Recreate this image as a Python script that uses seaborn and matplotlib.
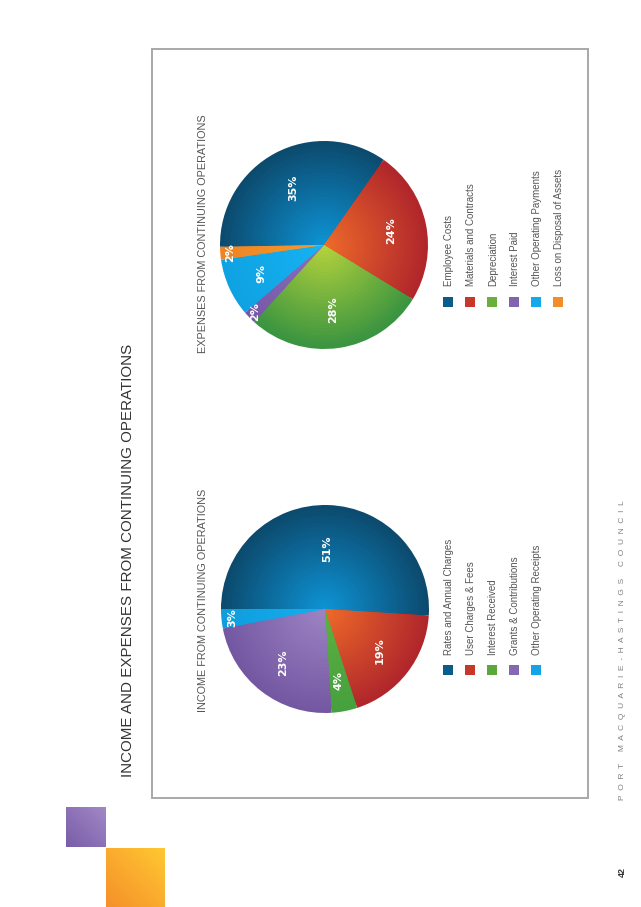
"""Income and expenses from continuing operations: two pies on a page rotated 90 degrees."""

import matplotlib

matplotlib.use("Agg")
import matplotlib.pyplot as plt
import numpy as np
import seaborn as sns
from matplotlib.colors import to_rgb
from matplotlib.patches import Rectangle

W, H = 641, 907

TITLE = "INCOME AND EXPENSES FROM CONTINUING OPERATIONS"
FOOTER = "P  O  R  T     M  A  C  Q  U  A  R  I  E  -  H  A  S  T  I  N  G  S     C  O  U  N  C  I  L"
PAGE_NO = "42"

INCOME_TITLE = "INCOME FROM CONTINUING OPERATIONS"
INCOME_LABELS = [
    "Rates and Annual Charges",
    "User Charges & Fees",
    "Interest Received",
    "Grants & Contributions",
    "Other Operating Receipts",
]
INCOME_PCT = [51, 19, 4, 23, 3]

EXPENSE_TITLE = "EXPENSES FROM CONTINUING OPERATIONS"
EXPENSE_LABELS = [
    "Employee Costs",
    "Materials and Contracts",
    "Depreciation",
    "Interest Paid",
    "Other Operating Payments",
    "Loss on Disposal of Assets",
]
EXPENSE_PCT = [35, 24, 28, 2, 9, 2]

# (edge colour, centre colour) for the radial shading of each slice
INCOME_SHADES = [
    ("#0c4a6e", "#0d93d4"),
    ("#b0262b", "#ee6a2a"),
    ("#45a03e", "#5fb040"),
    ("#7457a2", "#9c84c4"),
    ("#0f9ddc", "#14aef0"),
]
EXPENSE_SHADES = [
    ("#0c4a6e", "#0d93d4"),
    ("#b0262b", "#ee6a2a"),
    ("#3a9440", "#b4d23c"),
    ("#7658a6", "#8c70bc"),
    ("#0fa2e2", "#16b2f2"),
    ("#ee8424", "#f59a30"),
]
SWATCH = {
    "income": ["#0b5c8a", "#c8382a", "#5aa83c", "#8468b0", "#12a4e6"],
    "expense": ["#0b5c8a", "#c8382a", "#6aae3c", "#8064ae", "#12a8ea", "#f28e2a"],
}

sns.set_theme(style="white")
plt.rcParams["font.family"] = ["Liberation Sans", "DejaVu Sans"]

TEXT_GREY = "#555555"


def blend(c1, c2, t):
    a, b = np.array(to_rgb(c1)), np.array(to_rgb(c2))
    return tuple(a + (b - a) * t)


def shaded_pie(fig, cx, cy, r, values, shades, start, pct_dist):
    ax = fig.add_axes([(cx - r) / W, 1 - (cy + r) / H, 2 * r / W, 2 * r / H])
    layers = 30
    wedges = None
    for k in range(layers):
        t = k / (layers - 1)
        cols = [blend(e, c, t) for e, c in shades]
        w, _ = ax.pie(values, radius=1 - 0.97 * t, colors=cols, startangle=start,
                      counterclock=False, wedgeprops=dict(linewidth=0))
        if wedges is None:
            wedges = w
    for w, v, d in zip(wedges, values, pct_dist):
        mid = np.deg2rad((w.theta1 + w.theta2) / 2)
        ax.text(d * np.cos(mid), d * np.sin(mid), f"{v}%", rotation=90,
                ha="center", va="center", color="white", fontsize=8,
                fontweight="bold", family=["DejaVu Sans"])
    ax.set_xlim(-1, 1)
    ax.set_ylim(-1, 1)
    ax.set_aspect("equal")
    ax.axis("off")
    return ax


def gradient_square(ax, x, y, size, c_low, c_high):
    # diagonal shading, light towards the top right
    n = 40
    u = np.linspace(0, 1, n)
    t = (u[None, :] + u[::-1, None]) / 2
    a, b = np.array(to_rgb(c_low)), np.array(to_rgb(c_high))
    img = a + (b - a) * t[..., None]
    ax.imshow(img, extent=(x, x + size, y + size, y), interpolation="bilinear",
              aspect="auto", zorder=1)


fig = plt.figure(figsize=(W / 100, H / 100), dpi=100)
fig.patch.set_facecolor("white")

page = fig.add_axes([0, 0, 1, 1])
page.axis("off")

# decorative squares
gradient_square(page, 66, 807, 40, "#7a5ca8", "#a088c6")
gradient_square(page, 106, 848, 59, "#f5902a", "#ffc832")
page.set_xlim(0, W)
page.set_ylim(H, 0)

# frame
page.add_patch(Rectangle((152, 49), 436, 749, fill=False, edgecolor="#a8a8a8", linewidth=1.4))

page.text(128, 777, TITLE, rotation=90, rotation_mode="anchor", ha="left", va="center",
          fontsize=10.9, color="#333333")
page.text(203, 712, INCOME_TITLE, rotation=90, rotation_mode="anchor", ha="left",
          va="center", fontsize=7.8, color=TEXT_GREY)
page.text(203, 353, EXPENSE_TITLE, rotation=90, rotation_mode="anchor", ha="left",
          va="center", fontsize=7.8, color=TEXT_GREY)
page.text(622, 872, PAGE_NO, rotation=90, rotation_mode="anchor", ha="center",
          va="center", fontsize=6.5, color="#333333", fontweight="bold")
page.text(622, 800, FOOTER, rotation=90, rotation_mode="anchor", ha="left",
          va="center", fontsize=6.0, color="#808080")

shaded_pie(fig, 325, 609, 104, INCOME_PCT, INCOME_SHADES, 180,
           [0.58, 0.66, 0.7, 0.66, 0.9])
shaded_pie(fig, 324, 245, 104, EXPENSE_PCT, EXPENSE_SHADES, 181,
           [0.62, 0.66, 0.63, 0.92, 0.66, 0.91])

# legends
for i, (lab, col) in enumerate(zip(INCOME_LABELS, SWATCH["income"])):
    x = 448 + 22 * i
    page.add_patch(Rectangle((x - 5, 665), 10, 10, facecolor=col, edgecolor="none"))
    page.text(x + 1, 655, lab, rotation=90, rotation_mode="anchor", ha="left",
              va="center", fontsize=7, color=TEXT_GREY)
for i, (lab, col) in enumerate(zip(EXPENSE_LABELS, SWATCH["expense"])):
    x = 448 + 22 * i
    page.add_patch(Rectangle((x - 5, 297), 10, 10, facecolor=col, edgecolor="none"))
    page.text(x + 1, 286, lab, rotation=90, rotation_mode="anchor", ha="left",
              va="center", fontsize=7, color=TEXT_GREY)

fig.savefig("out.png", dpi=100)
